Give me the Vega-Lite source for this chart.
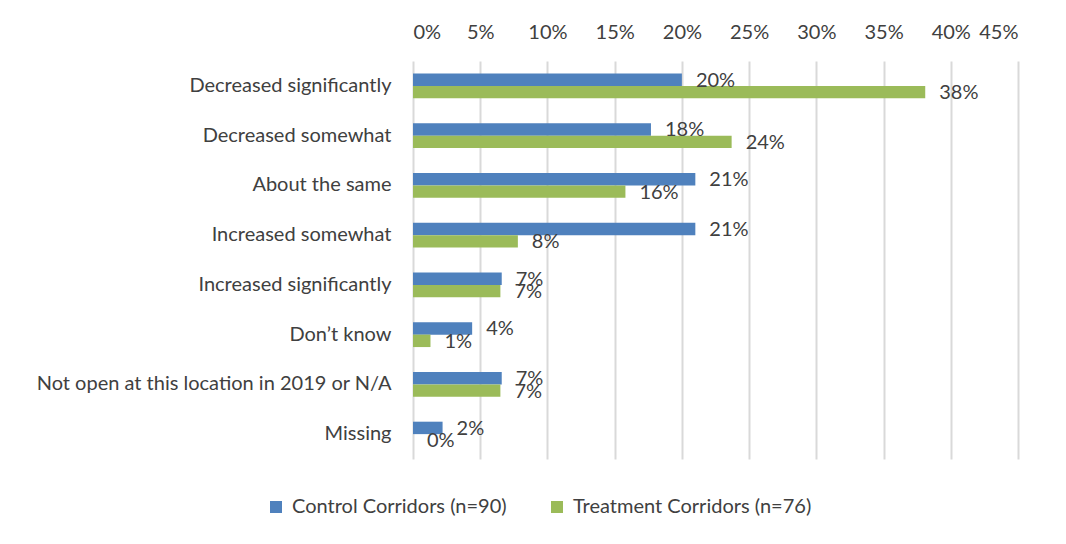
{
  "$schema": "https://vega.github.io/schema/vega-lite/v6.json",
  "width": 605,
  "height": 398,
  "autosize": "none",
  "padding": {"left": 413, "top": 61, "right": 48, "bottom": 85},
  "background": "white",
  "config": {"view": {"stroke": null}, "font": "Lato"},
  "data": {
    "values": [
      {"category": "Decreased significantly", "group": "Control Corridors (n=90)", "value": 0.200},
      {"category": "Decreased significantly", "group": "Treatment Corridors (n=76)", "value": 0.381},
      {"category": "Decreased somewhat", "group": "Control Corridors (n=90)", "value": 0.177},
      {"category": "Decreased somewhat", "group": "Treatment Corridors (n=76)", "value": 0.237},
      {"category": "About the same", "group": "Control Corridors (n=90)", "value": 0.210},
      {"category": "About the same", "group": "Treatment Corridors (n=76)", "value": 0.158},
      {"category": "Increased somewhat", "group": "Control Corridors (n=90)", "value": 0.210},
      {"category": "Increased somewhat", "group": "Treatment Corridors (n=76)", "value": 0.078},
      {"category": "Increased significantly", "group": "Control Corridors (n=90)", "value": 0.066},
      {"category": "Increased significantly", "group": "Treatment Corridors (n=76)", "value": 0.065},
      {"category": "Don’t know", "group": "Control Corridors (n=90)", "value": 0.044},
      {"category": "Don’t know", "group": "Treatment Corridors (n=76)", "value": 0.013},
      {"category": "Not open at this location in 2019 or N/A", "group": "Control Corridors (n=90)", "value": 0.066},
      {"category": "Not open at this location in 2019 or N/A", "group": "Treatment Corridors (n=76)", "value": 0.065},
      {"category": "Missing", "group": "Control Corridors (n=90)", "value": 0.022},
      {"category": "Missing", "group": "Treatment Corridors (n=76)", "value": 0.0}
    ]
  },
  "encoding": {
    "y": {
      "field": "category",
      "type": "nominal",
      "sort": ["Decreased significantly", "Decreased somewhat", "About the same", "Increased somewhat", "Increased significantly", "Don’t know", "Not open at this location in 2019 or N/A", "Missing"],
      "scale": {"paddingInner": 0.5, "paddingOuter": 0.25},
      "axis": {"title": null, "domain": false, "ticks": false, "labelPadding": 22, "labelFontSize": 20, "labelColor": "#404040", "labelFont": "Lato", "labelLimit": 0}
    },
    "yOffset": {"field": "group", "type": "nominal", "sort": ["Control Corridors (n=90)", "Treatment Corridors (n=76)"]},
    "x": {
      "field": "value",
      "type": "quantitative",
      "scale": {"domain": [0, 0.45], "nice": false},
      "axis": {"orient": "top", "title": null, "format": ".0%", "values": [0, 0.05, 0.1, 0.15, 0.2, 0.25, 0.3, 0.35, 0.4, 0.45], "domain": false, "ticks": false, "grid": true, "gridColor": "#d9d9d9", "gridWidth": 2, "labelPadding": 19, "labelFontSize": 20, "labelColor": "#404040", "labelFont": "Lato"}
    }
  },
  "layer": [
    {
      "mark": {"type": "bar"},
      "encoding": {
        "color": {
          "field": "group",
          "type": "nominal",
          "sort": ["Control Corridors (n=90)", "Treatment Corridors (n=76)"],
          "scale": {"domain": ["Control Corridors (n=90)", "Treatment Corridors (n=76)"], "range": ["#4f81bd", "#9bbb59"]},
          "legend": {"title": null, "orient": "none", "direction": "horizontal", "legendX": -147, "legendY": 436, "symbolType": "square", "symbolSize": 144, "symbolStrokeWidth": 0, "symbolOpacity": 1, "labelFontSize": 20, "labelColor": "#404040", "labelFont": "Lato", "labelOffset": 6, "labelLimit": 0, "columnPadding": 40}
        }
      }
    },
    {
      "mark": {"type": "text", "align": "left", "baseline": "middle", "dx": 14, "dy": 1, "fontSize": 20, "font": "Lato", "color": "#404040"},
      "encoding": {"text": {"field": "value", "type": "quantitative", "format": ".0%"}}
    }
  ]
}
